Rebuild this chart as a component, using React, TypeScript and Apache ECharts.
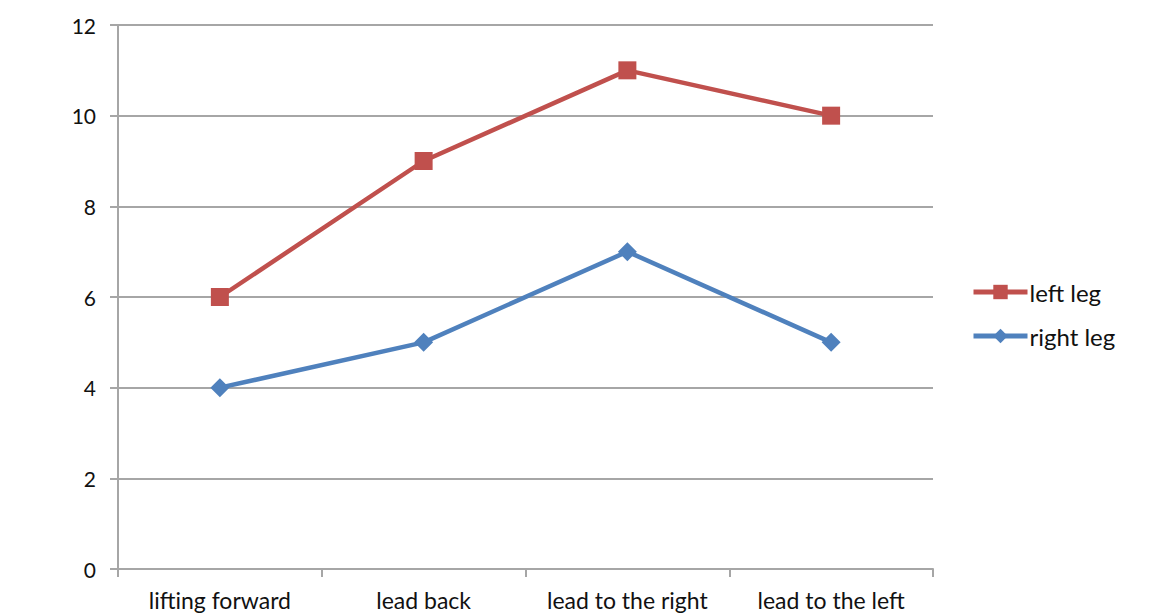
import React, { useEffect, useRef } from "react";
import * as echarts from "echarts";

const categories = ["lifting forward", "lead back", "lead to the right", "lead to the left"];
const leftLeg = [6, 9, 11, 10];
const rightLeg = [4, 5, 7, 5];

export default function App() {
  const ref = useRef<HTMLDivElement>(null);
  useEffect(() => {
    const chart = echarts.init(ref.current!, null, { renderer: "svg" });
    const font = "Lato, 'Open Sans', sans-serif";
    chart.setOption({
      animation: false,
      backgroundColor: "#ffffff",
      grid: { left: 118, right: 233, top: 25, bottom: 47 },
      xAxis: {
        type: "category",
        data: categories,
        boundaryGap: true,
        axisLine: { lineStyle: { color: "#a6a6a6", width: 2 } },
        axisTick: { show: true, interval: 0, length: 8, lineStyle: { color: "#a6a6a6", width: 2 } },
        axisLabel: { color: "#111", fontSize: 23, fontFamily: font, margin: 19, interval: 0, hideOverlap: false },
      },
      yAxis: {
        type: "value",
        min: 0,
        max: 12,
        interval: 2,
        axisLine: { show: true, lineStyle: { color: "#a6a6a6", width: 2 } },
        axisTick: { show: true, length: 8, lineStyle: { color: "#a6a6a6", width: 2 } },
        axisLabel: { color: "#111", fontSize: 21, fontFamily: font, margin: 22 },
        splitLine: { lineStyle: { color: "#a6a6a6", width: 2 } },
      },
      legend: {
        orient: "vertical",
        left: 966,
        top: 275,
        itemWidth: 54,
        itemHeight: 18,
        itemGap: 20,
        lineStyle: { width: 5 },
        textStyle: { color: "#111", fontSize: 24, fontFamily: font, padding: [0, 0, 0, -3] },
        data: ["left leg", "right leg"],
      },
      series: [
        {
          name: "left leg",
          type: "line",
          data: leftLeg,
          symbol: "rect",
          symbolSize: 18,
          color: "#c0504d",
          lineStyle: { width: 4.5, color: "#c0504d" },
          itemStyle: { color: "#c0504d" },
        },
        {
          name: "right leg",
          type: "line",
          data: rightLeg,
          symbol: "diamond",
          symbolSize: 19,
          color: "#4f81bd",
          lineStyle: { width: 4.5, color: "#4f81bd" },
          itemStyle: { color: "#4f81bd" },
        },
      ],
    });
    return () => chart.dispose();
  }, []);
  return (
    <div
      ref={ref}
      style={{ position: "fixed", left: 0, top: 0, width: 1166, height: 616 }}
    />
  );
}
